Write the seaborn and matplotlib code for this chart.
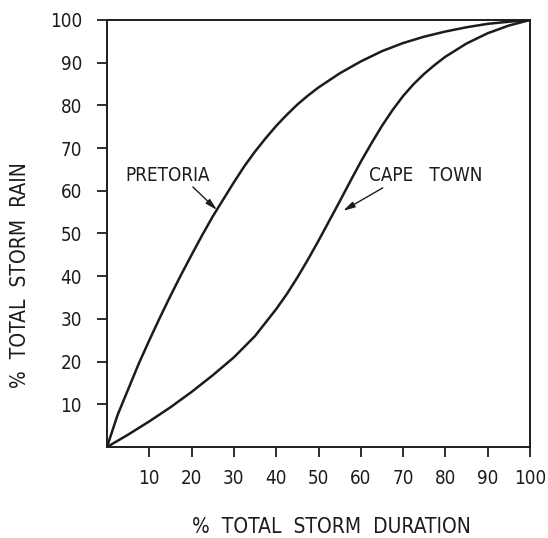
import matplotlib
matplotlib.use("Agg")
import matplotlib.pyplot as plt
import seaborn as sns
import pandas as pd

# Cumulative storm rainfall (% of total) against elapsed storm duration (%)
pretoria_duration = [0, 2.5, 5, 7.5, 10, 12.5, 15, 17.5, 20, 22.5, 25, 27.5, 30, 32.5,
                     35, 37.5, 40, 42.5, 45, 47.5, 50, 55, 60, 65, 70, 75, 80, 85,
                     90, 95, 100]
pretoria_rain = [0, 7.5, 13.5, 19.5, 25, 30.3, 35.4, 40.3, 45, 49.6, 54, 58, 62, 65.8,
                 69.2, 72.3, 75.2, 77.8, 80.2, 82.3, 84.2, 87.5, 90.3, 92.7, 94.6,
                 96.1, 97.3, 98.3, 99.1, 99.6, 100]

capetown_duration = [0, 5, 10, 15, 20, 25, 30, 35, 40, 42.5, 45, 47.5, 50, 52.5, 55,
                     57.5, 60, 62.5, 65, 67.5, 70, 72.5, 75, 77.5, 80, 85, 90, 95, 100]
capetown_rain = [0, 2.9, 6.0, 9.3, 12.9, 16.8, 21, 26, 32.3, 35.8, 39.7, 43.9, 48.3,
                 52.9, 57.5, 62.2, 66.8, 71.1, 75.2, 78.9, 82.2, 85.0, 87.4, 89.5,
                 91.4, 94.5, 96.9, 98.7, 100]

tick_values = [10, 20, 30, 40, 50, 60, 70, 80, 90, 100]

df = pd.concat([
    pd.DataFrame({"duration": pretoria_duration, "rain": pretoria_rain, "city": "PRETORIA"}),
    pd.DataFrame({"duration": capetown_duration, "rain": capetown_rain, "city": "CAPE TOWN"}),
])

sns.set_style("ticks")
plt.rcParams["font.family"] = ["DejaVu Sans"]
plt.rcParams["font.stretch"] = "condensed"
ink = "#1c1c1c"

fig = plt.figure(figsize=(5.48, 5.38), dpi=100)
ax = fig.add_axes([107 / 548, 1 - 447 / 538, 423 / 548, 427 / 538])

sns.lineplot(data=df, x="duration", y="rain", units="city", estimator=None,
             color=ink, linewidth=1.8, sort=False, ax=ax, legend=False)

ax.set_xlim(0, 100)
ax.set_ylim(0, 100)
ax.set_xticks(tick_values)
ax.set_yticks(tick_values)
ax.set_xticklabels([str(v) for v in tick_values])
ax.set_yticklabels([str(v) for v in tick_values])
ax.tick_params(axis="both", direction="out", length=7, width=1.3, color=ink,
               labelsize=13.5, labelcolor=ink)
ax.tick_params(axis="x", pad=9)
ax.tick_params(axis="y", pad=11)
for side in ["left", "right", "top", "bottom"]:
    ax.spines[side].set_visible(True)
    ax.spines[side].set_linewidth(1.4)
    ax.spines[side].set_color(ink)
ax.set_xlabel("")
ax.set_ylabel("")

# Axis titles
fig.text(20 / 548, 1 - 275 / 538, "%  TOTAL  STORM  RAIN", rotation=90,
         ha="center", va="center", fontsize=15, color=ink)
fig.text(331 / 548, 1 - 527 / 538, "%  TOTAL  STORM  DURATION",
         ha="center", va="center", fontsize=15, color=ink)

arrow = dict(arrowstyle="-|>,head_length=0.7,head_width=0.18", color=ink,
             lw=1.0, shrinkA=0, shrinkB=0)
ax.annotate("", xy=(26.0, 55.5), xytext=(20.3, 60.9), arrowprops=arrow)
ax.annotate("", xy=(55.8, 55.3), xytext=(65.2, 60.7), arrowprops=arrow)
ax.text(14.4, 63.5, "PRETORIA", ha="center", va="center", fontsize=13.5, color=ink)
ax.text(75.4, 63.7, "CAPE   TOWN", ha="center", va="center", fontsize=13.5, color=ink)

fig.savefig("out.png", dpi=100, facecolor="white")
